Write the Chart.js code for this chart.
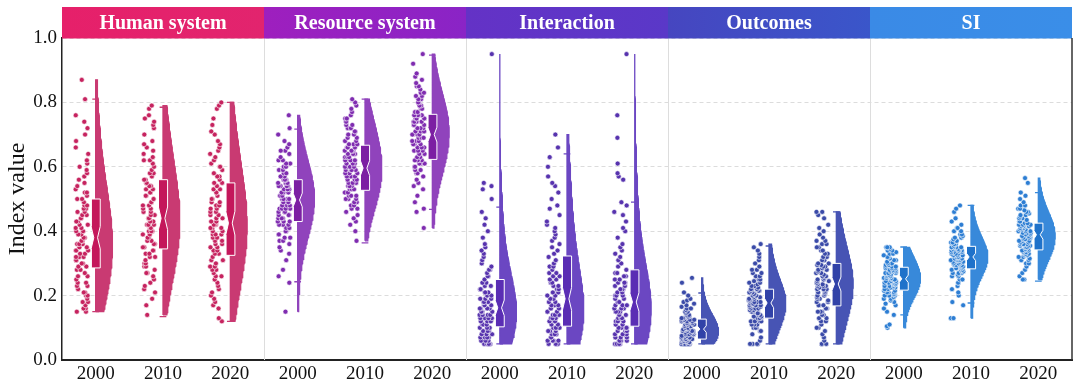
<!DOCTYPE html>
<html>
<head>
<meta charset="utf-8">
<script src="https://cdn.jsdelivr.net/npm/chart.js@4.4.1/dist/chart.umd.min.js"></script>
<style>
  html, body { margin: 0; background: #fff; }
  #wrap { width: 1080px; height: 390px; }
</style>
</head>
<body>
<div id="wrap"><canvas id="myChart"></canvas></div>
<script>
'use strict';

let panels = ['Human system', 'Resource system', 'Interaction', 'Outcomes', 'SI'];
let years = ['2000', '2010', '2020'];

// index values per region, one list per year
let humanSystem = [
    [.15,.15,.16,.16,.17,.18,.18,.19,.20,.20,.21,.21,.22,.23,.23,.24,.24,.25,.26,.26,.27,.28,.28,
     .29,.29,.30,.30,.30,.31,.31,.32,.32,.32,.33,.33,.34,.34,.34,.35,.35,.36,.36,.36,.37,.37,.38,
     .38,.39,.39,.40,.40,.41,.41,.42,.42,.43,.43,.44,.44,.45,.45,.46,.46,.47,.47,.48,.48,.49,.50,
     .50,.51,.52,.52,.53,.54,.55,.56,.57,.58,.59,.60,.61,.62,.64,.66,.68,.70,.72,.74,.76,.81,.87],
    [.14,.17,.19,.21,.22,.23,.24,.25,.26,.27,.27,.28,.29,.29,.30,.30,.31,.32,.32,.33,.33,.34,.34,
     .35,.35,.36,.36,.37,.37,.38,.38,.39,.39,.40,.40,.40,.41,.41,.42,.42,.42,.43,.43,.44,.44,.44,
     .45,.45,.46,.46,.47,.47,.48,.48,.49,.49,.50,.50,.51,.51,.52,.52,.53,.53,.54,.54,.55,.55,.56,
     .56,.57,.58,.58,.59,.60,.61,.62,.62,.63,.64,.65,.66,.67,.68,.70,.72,.73,.74,.75,.76,.78,.79],
    [.12,.13,.16,.17,.18,.19,.20,.21,.22,.23,.24,.25,.26,.26,.27,.28,.28,.29,.29,.30,.31,.31,.32,
     .33,.33,.34,.34,.35,.35,.36,.36,.37,.37,.38,.38,.39,.39,.39,.40,.40,.41,.41,.41,.42,.42,.42,
     .43,.43,.44,.44,.45,.45,.46,.46,.47,.47,.48,.48,.49,.49,.50,.50,.51,.52,.52,.53,.53,.54,.55,
     .55,.56,.57,.57,.58,.59,.60,.60,.61,.62,.63,.64,.65,.66,.67,.68,.70,.71,.73,.75,.78,.79,.80]
];
let resourceSystem = [
    [.15,.24,.26,.28,.31,.33,.34,.35,.36,.37,.37,.38,.38,.39,.39,.40,.40,.41,.41,.42,.42,.42,.43,
     .43,.43,.44,.44,.44,.45,.45,.45,.46,.46,.46,.47,.47,.47,.47,.48,.48,.48,.49,.49,.49,.50,.50,
     .50,.50,.51,.51,.51,.52,.52,.52,.53,.53,.53,.53,.54,.54,.54,.54,.55,.55,.55,.55,.56,.56,.56,
     .56,.57,.57,.58,.58,.59,.59,.60,.60,.61,.61,.62,.62,.63,.64,.65,.65,.66,.67,.68,.70,.72,.76],
    [.37,.40,.42,.43,.44,.45,.46,.47,.47,.48,.48,.49,.49,.50,.50,.50,.51,.51,.51,.52,.52,.52,.53,
     .53,.53,.54,.54,.54,.55,.55,.55,.56,.56,.56,.57,.57,.57,.58,.58,.58,.59,.59,.59,.59,.60,.60,
     .60,.60,.61,.61,.61,.62,.62,.62,.63,.63,.63,.64,.64,.64,.65,.65,.65,.65,.66,.66,.66,.67,.67,
     .67,.68,.68,.69,.69,.70,.70,.71,.71,.72,.72,.73,.73,.74,.74,.75,.75,.76,.77,.78,.79,.80,.81],
    [.41,.46,.47,.49,.51,.53,.54,.55,.56,.57,.58,.58,.59,.59,.60,.60,.61,.61,.61,.62,.62,.62,.62,
     .63,.63,.64,.64,.64,.65,.65,.65,.66,.66,.66,.67,.67,.67,.68,.68,.68,.69,.69,.69,.70,.70,.70,
     .70,.71,.71,.71,.72,.72,.72,.73,.73,.73,.74,.74,.74,.74,.75,.75,.75,.75,.76,.76,.76,.76,.76,
     .77,.77,.78,.78,.79,.79,.80,.80,.81,.81,.82,.82,.83,.83,.84,.85,.85,.86,.87,.88,.89,.92,.95]
];
let interaction = [
    [.05,.05,.05,.05,.05,.06,.06,.06,.06,.07,.07,.07,.07,.08,.08,.08,.08,.09,.09,.09,.10,.10,.10,
     .11,.11,.11,.12,.12,.12,.12,.13,.13,.13,.13,.14,.14,.14,.14,.15,.15,.15,.15,.16,.16,.16,.16,
     .17,.17,.17,.18,.18,.18,.19,.19,.19,.20,.20,.20,.21,.21,.21,.22,.22,.22,.23,.23,.24,.24,.25,
     .26,.26,.27,.28,.28,.29,.30,.31,.32,.33,.34,.35,.36,.38,.40,.42,.44,.46,.50,.53,.54,.55,.95],
    [.05,.05,.05,.05,.06,.06,.06,.06,.07,.07,.07,.08,.08,.08,.08,.09,.09,.09,.10,.10,.10,.10,.10,
     .11,.11,.12,.12,.12,.13,.13,.13,.14,.14,.14,.15,.15,.15,.16,.16,.16,.17,.17,.17,.18,.18,.19,
     .19,.20,.20,.21,.21,.22,.22,.23,.23,.24,.24,.25,.25,.26,.26,.27,.27,.28,.29,.29,.30,.31,.32,
     .33,.34,.35,.36,.37,.38,.39,.40,.41,.42,.43,.45,.47,.48,.50,.52,.54,.55,.57,.60,.63,.66,.70],
    [.05,.05,.05,.05,.06,.06,.06,.06,.07,.07,.07,.08,.08,.08,.08,.09,.09,.09,.10,.10,.10,.10,.10,
     .11,.11,.12,.12,.12,.13,.13,.13,.14,.14,.14,.15,.15,.15,.15,.16,.16,.16,.17,.17,.17,.18,.18,
     .18,.19,.19,.20,.20,.20,.21,.21,.22,.22,.22,.23,.23,.24,.24,.24,.25,.25,.26,.26,.27,.27,.28,
     .29,.30,.31,.32,.33,.34,.35,.36,.38,.40,.41,.43,.45,.46,.48,.49,.56,.57,.58,.61,.69,.76,.95]
];
let outcomes = [
    [.05,.05,.05,.05,.05,.05,.05,.05,.05,.05,.055,.055,.055,.06,.06,.06,.06,.06,.06,.065,.065,.065,.065,
     .07,.07,.07,.07,.075,.075,.075,.08,.08,.08,.08,.085,.085,.085,.09,.09,.09,.09,.09,.095,.095,.095,.095,
     .10,.10,.10,.10,.105,.105,.105,.11,.11,.11,.11,.115,.115,.115,.12,.12,.12,.12,.125,.125,.125,.125,.125,
     .13,.13,.13,.135,.135,.14,.14,.145,.15,.15,.155,.16,.16,.165,.17,.175,.18,.185,.19,.20,.21,.24,.255],
    [.05,.05,.05,.05,.06,.07,.08,.09,.09,.10,.10,.10,.11,.11,.11,.11,.12,.12,.12,.12,.12,.13,.13,
     .13,.135,.135,.14,.14,.145,.145,.15,.15,.155,.155,.16,.16,.16,.165,.165,.17,.17,.17,.175,.175,.175,.18,
     .18,.18,.185,.185,.19,.19,.19,.195,.195,.20,.20,.20,.205,.205,.21,.21,.21,.215,.215,.215,.22,.22,.22,
     .225,.23,.23,.235,.24,.24,.245,.25,.25,.26,.26,.27,.27,.28,.28,.29,.30,.31,.32,.33,.34,.35,.36],
    [.05,.05,.05,.06,.07,.08,.09,.10,.10,.11,.12,.12,.13,.13,.14,.14,.15,.15,.15,.16,.16,.16,.17,
     .17,.17,.18,.18,.185,.19,.19,.195,.20,.20,.205,.21,.21,.215,.22,.22,.22,.225,.23,.23,.23,.235,.235,
     .24,.24,.245,.245,.25,.25,.255,.26,.26,.265,.27,.27,.275,.28,.28,.28,.285,.29,.29,.295,.295,.30,.30,
     .31,.31,.32,.32,.33,.33,.34,.34,.35,.35,.36,.36,.37,.37,.38,.39,.40,.41,.42,.44,.45,.46,.46]
];
let si = [
    [.10,.105,.11,.14,.15,.16,.17,.175,.18,.185,.19,.19,.195,.20,.20,.20,.205,.205,.21,.21,.21,.215,.215,
     .22,.22,.22,.225,.225,.225,.23,.23,.23,.235,.235,.235,.24,.24,.24,.24,.245,.245,.245,.25,.25,.25,.25,
     .255,.255,.255,.26,.26,.26,.265,.265,.265,.27,.27,.27,.27,.275,.275,.275,.28,.28,.28,.285,.285,.285,.29,
     .29,.29,.295,.295,.30,.30,.30,.305,.31,.31,.315,.32,.32,.325,.33,.33,.335,.34,.34,.345,.35,.35,.35],
    [.13,.13,.17,.18,.20,.21,.22,.23,.24,.24,.25,.25,.26,.26,.265,.27,.27,.27,.275,.275,.28,.28,.28,
     .285,.285,.29,.29,.29,.295,.295,.295,.30,.30,.30,.305,.305,.305,.31,.31,.31,.31,.315,.315,.315,.32,.32,
     .32,.32,.325,.325,.325,.33,.33,.33,.335,.335,.335,.34,.34,.34,.34,.345,.345,.345,.35,.35,.35,.35,.35,
     .355,.36,.36,.365,.365,.37,.37,.375,.38,.38,.385,.39,.39,.40,.40,.41,.41,.42,.43,.44,.46,.47,.48],
    [.25,.25,.26,.27,.28,.29,.30,.30,.31,.31,.315,.32,.32,.325,.325,.33,.33,.33,.335,.335,.34,.34,.34,
     .345,.345,.35,.35,.35,.355,.355,.355,.36,.36,.36,.365,.365,.37,.37,.37,.375,.375,.38,.38,.38,.385,.385,
     .39,.39,.395,.395,.395,.40,.40,.40,.405,.405,.405,.41,.41,.41,.415,.415,.415,.42,.42,.42,.42,.425,.425,
     .43,.43,.435,.435,.44,.44,.445,.45,.45,.455,.46,.46,.465,.47,.47,.48,.48,.49,.50,.51,.52,.55,.565]
];

// box plot numbers (15 groups, panel by panel)
let whiskerLow  = [.15, .135, .12,  .243, .364, .468,  .05, .05, .05,  .05, .05, .05,  .14, .177, .245];
let q1          = [.286, .345, .325, .43, .527, .623,  .103, .105, .105,  .065, .13, .168,  .217, .283, .342];
let median      = [.38, .44, .425,  .497, .596, .70,  .162, .19, .18,  .096, .177, .236,  .252, .32, .389];
let q3          = [.50, .56, .55,  .56, .667, .763,  .25, .323, .28,  .127, .22, .30,  .288, .353, .425];
let whiskerHigh = [.81, .785, .80,  .717, .81, .947,  .475, .64, .49,  .208, .354, .46,  .351, .48, .52];

let headerColors = [['#E6206A', '#E2246E'], ['#9E1FBE', '#8A24C6'], ['#6432C6', '#5A38C8'], ['#4646C0', '#3A56CA'], ['#3A8AE6', '#3A8EE8']];
let violinColors = ['#C93A72', '#9043BC', '#6B47C2', '#4754B4', '#3889DA'];
let boxColors = ['#C4175B', '#7C1FA3', '#5A2DB4', '#3142A8', '#1F72CA'];
let dotColors = ['#C6235F', '#7F2CB0', '#5733AE', '#3A4AA8', '#2C7DD3'];

let serif = "'Liberation Serif', 'Times New Roman', serif";
let groups = [humanSystem, resourceSystem, interaction, outcomes, si].flat();

function jit(k) {
    let s = Math.sin(k * 127.1 + 311.7) * 43758.5453;
    return s - Math.floor(s);
}

function kde(vals, y, bw) {
    let sum = 0;
    for (let v of vals) {
        let u = (y - v) / bw;
        sum += Math.exp(-0.5 * u * u);
    }
    return sum;
}

let datasets = [];
groups.forEach(function (vals, g) {
    let c = g + 0.5;
    let p = Math.floor(g / 3);
    let n = vals.length;

    // half violin on the right
    let lo = Math.min(...vals);
    let hi = Math.max(...vals);
    let mean = vals.reduce((a, b) => a + b, 0) / n;
    let sd = Math.sqrt(vals.reduce((a, b) => a + (b - mean) * (b - mean), 0) / (n - 1));
    let bw = 1.6 * sd * Math.pow(n, -0.2);
    let ys = [];
    let ds = [];
    for (let i = 0; i <= 90; i++) {
        let y = lo + (hi - lo) * i / 90;
        ys.push(y);
        ds.push(kde(vals, y, bw));
    }
    let dmax = Math.max(...ds);
    let shape = [{ x: c, y: lo }];
    ys.forEach((y, i) => shape.push({ x: c + 0.25 * ds[i] / dmax, y: y }));
    shape.push({ x: c, y: hi });
    shape.push({ x: c, y: lo });
    datasets.push({
        type: 'line', data: shape, fill: 'shape', tension: 0,
        backgroundColor: violinColors[p], borderColor: violinColors[p], borderWidth: 1.3,
        pointRadius: 0, order: 4
    });

    // whisker caps
    datasets.push({
        type: 'line', tension: 0, pointRadius: 0, borderWidth: 1.3, borderColor: violinColors[p], order: 3,
        data: [
            { x: c - 0.05, y: whiskerLow[g] }, { x: c + 0.05, y: whiskerLow[g] }, { x: c, y: null },
            { x: c - 0.05, y: whiskerHigh[g] }, { x: c + 0.05, y: whiskerHigh[g] }
        ]
    });

    // notched box
    let w = 0.068;
    let nw = 0.028;
    let notch = Math.min(1.57 * (q3[g] - q1[g]) / Math.sqrt(n), median[g] - q1[g], q3[g] - median[g]);
    datasets.push({
        type: 'line', fill: 'shape', tension: 0, pointRadius: 0, order: 2,
        backgroundColor: boxColors[p], borderColor: '#ffffff', borderWidth: 1,
        data: [
            { x: c - w, y: q1[g] }, { x: c + w, y: q1[g] }, { x: c + w, y: median[g] - notch },
            { x: c + nw, y: median[g] }, { x: c + w, y: median[g] + notch }, { x: c + w, y: q3[g] },
            { x: c - w, y: q3[g] }, { x: c - w, y: median[g] + notch }, { x: c - nw, y: median[g] },
            { x: c - w, y: median[g] - notch }, { x: c - w, y: q1[g] }
        ]
    });

    // jittered points on the left
    datasets.push({
        type: 'scatter', order: 1,
        data: vals.map((v, k) => ({ x: c - 0.30 + 0.19 * jit(g * 400 + k), y: v })),
        pointRadius: 2.5, pointBackgroundColor: dotColors[p], pointBorderColor: '#ffffff', pointBorderWidth: 0.6
    });
});

let panelPlugin = {
    id: 'panels',
    beforeDatasetsDraw(chart) {
        let ctx = chart.ctx;
        let x = chart.scales.x;
        let area = chart.chartArea;
        ctx.save();
        ctx.strokeStyle = '#dddddd';
        ctx.lineWidth = 1;
        for (let k = 1; k < panels.length; k++) {
            let px = Math.round(x.getPixelForValue(k * 3)) + 0.5;
            ctx.beginPath();
            ctx.moveTo(px, area.top);
            ctx.lineTo(px, area.bottom);
            ctx.stroke();
        }
        ctx.restore();
    },
    afterDraw(chart) {
        let ctx = chart.ctx;
        let x = chart.scales.x;
        let area = chart.chartArea;
        ctx.save();
        panels.forEach(function (name, k) {
            let x0 = x.getPixelForValue(k * 3);
            let x1 = x.getPixelForValue(k * 3 + 3);
            let grad = ctx.createLinearGradient(x0, 0, x1, 0);
            grad.addColorStop(0, headerColors[k][0]);
            grad.addColorStop(1, headerColors[k][1]);
            ctx.fillStyle = grad;
            ctx.fillRect(x0, 7, x1 - x0, area.top - 7 + 0.5);
            ctx.fillStyle = '#ffffff';
            ctx.font = 'bold 20px ' + serif;
            ctx.textAlign = 'center';
            ctx.textBaseline = 'middle';
            ctx.fillText(name, (x0 + x1) / 2, (7 + area.top) / 2 + 1);
        });
        // right frame line
        ctx.strokeStyle = '#333333';
        ctx.lineWidth = 1.5;
        ctx.beginPath();
        ctx.moveTo(area.right, area.top);
        ctx.lineTo(area.right, area.bottom);
        ctx.stroke();
        ctx.restore();
    }
};

let ctx = document.getElementById('myChart').getContext('2d');
let myChart = new Chart(ctx, {
    type: 'scatter',
    data: { datasets: datasets },
    plugins: [panelPlugin],
    options: {
        responsive: true,
        maintainAspectRatio: false,
        animation: false,
        events: [],
        layout: { padding: { top: 38, right: 8, left: 0, bottom: 0 } },
        plugins: { legend: { display: false }, tooltip: { enabled: false } },
        scales: {
            x: {
                type: 'linear', min: 0, max: 15,
                grid: { display: false, drawTicks: false },
                border: { display: true, color: '#222222', width: 2 },
                afterBuildTicks: function (scale) {
                    scale.ticks = groups.map((_, i) => ({ value: i + 0.5 }));
                },
                afterFit: function (scale) { scale.height = 30; },
                ticks: {
                    autoSkip: false, maxRotation: 0, padding: 3, color: '#111111',
                    font: { family: serif, size: 19 },
                    callback: (v, i) => years[i % 3]
                }
            },
            y: {
                min: 0, max: 1,
                afterFit: function (scale) { scale.width = 62; },
                grid: { color: '#dcdcdc', lineWidth: 1, drawTicks: false },
                border: { display: true, color: '#222222', width: 1.5, dash: [4, 3] },
                ticks: {
                    stepSize: 0.2, padding: 5, color: '#111111',
                    font: { family: serif, size: 19 },
                    callback: v => v.toFixed(1)
                },
                title: {
                    display: true, text: 'Index value', color: '#111111',
                    font: { family: serif, size: 24 }, padding: { top: 3, bottom: 0 }
                }
            }
        }
    }
});
</script>
</body>
</html>
